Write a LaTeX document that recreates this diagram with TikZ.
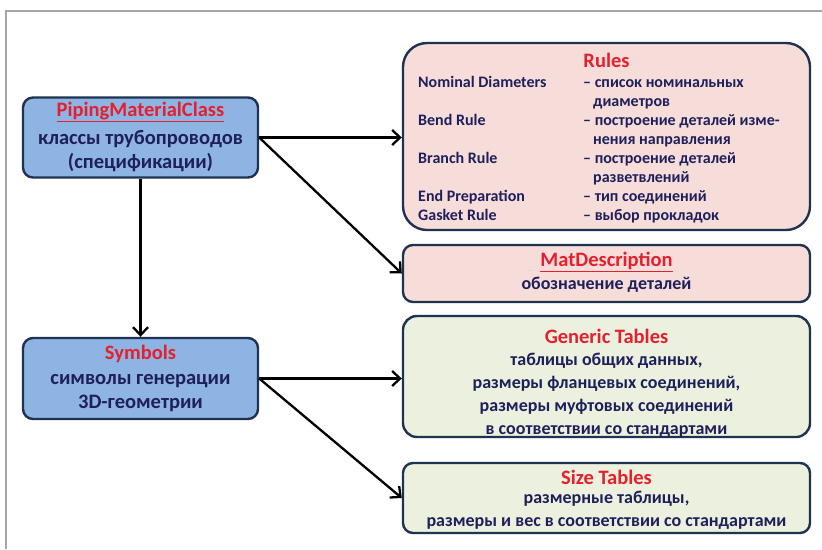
\documentclass[tikz,border=0pt]{standalone}
\usepackage{fontspec}
\setmainfont{Carlito}
\usetikzlibrary{arrows.meta}
\definecolor{navy}{HTML}{1F3350}
\definecolor{txt}{HTML}{1F1F5A}
\definecolor{ttl}{HTML}{E5202E}
\definecolor{bluefill}{HTML}{8EB4E3}
\definecolor{pinkfill}{HTML}{F7DDDA}
\definecolor{greenfill}{HTML}{EBF1DE}
\begin{document}
\begin{tikzpicture}[x=1pt,y=-1pt,
  box/.style={draw=navy, line width=2.4pt, rounded corners=10pt, inner sep=0pt,
    minimum width=407pt},
  leftbox/.style={box, fill=bluefill, minimum width=235pt},
  conn/.style={draw=black, line width=2.3pt, -{Straight Barb[length=8pt,width=15pt]}},
  title/.style={text=ttl, font=\bfseries\fontsize{20.5}{24}\selectfont, inner sep=0pt},
  lbody/.style={text=txt, font=\bfseries\fontsize{20.5}{24}\selectfont, align=center, inner sep=0pt},
  rbody/.style={text=txt, font=\bfseries\fontsize{18}{23}\selectfont, align=center, inner sep=0pt},
  rtext/.style={text=txt, font=\bfseries\fontsize{16}{19}\selectfont, align=left, inner sep=0pt, anchor=north west}
]
\useasboundingbox (0,0) rectangle (822,549);
\fill[white] (0,0) rectangle (822,549);
\draw[black!35, line width=1.2pt] (6,549) -- (6,11) -- (822,11);

% left boxes
\node[leftbox, minimum height=80pt] (pmc) at (140.5,137.5) {};
\node[title] (pmct) at (140.5,112) {\underline{PipingMaterialClass}};
\node[lbody] (pmcb) at (140.5,151.5) {классы трубопроводов\\(спецификации)};

\node[leftbox, minimum height=81pt] (sym) at (140.5,378.5) {};
\node[title] (symt) at (140.5,354) {Symbols};
\node[lbody] (symb) at (140.5,393) {символы генерации\\3D-геометрии};

% right boxes
\node[box, fill=pinkfill, minimum height=187pt, rounded corners=24pt] (rules) at (606.5,136.5) {};
\node[title] (rulest) at (606.5,60) {Rules};
\node[rtext] (rulesb) at (418,76.5) {%
\makebox[165pt][l]{Nominal Diameters}– список номинальных\\
\makebox[175pt][l]{}диаметров\\
\makebox[165pt][l]{Bend Rule}– построение деталей изме-\\
\makebox[175pt][l]{}нения направления\\
\makebox[165pt][l]{Branch Rule}– построение деталей\\
\makebox[175pt][l]{}разветвлений\\
\makebox[165pt][l]{End Preparation}– тип соединений\\
\makebox[165pt][l]{Gasket Rule}– выбор прокладок};

\node[box, fill=pinkfill, minimum height=57pt] (matd) at (606.5,273.5) {};
\node[title] (matdt) at (606.5,262) {\underline{MatDescription}};
\node[rbody] (matdb) at (606.5,285) {обозначение деталей};

\node[box, fill=greenfill, minimum height=121pt, rounded corners=14pt] (gen) at (606.5,376.5) {};
\node[title] (gent) at (606.5,336) {Generic Tables};
\node[rbody] (genb) at (606.5,395) {таблицы общих данных,\\размеры фланцевых соединений,\\размеры муфтовых соединений\\в соответствии со стандартами};

\node[box, fill=greenfill, minimum height=70pt] (size) at (606.5,498) {};
\node[title] (sizet) at (606.5,477) {Size Tables};
\node[rbody] (sizeb) at (606.5,510) {размерные таблицы,\\размеры и вес в соответствии со стандартами};

% connectors
\draw[conn] (pmc.east) -- (pmc.east -| rules.west);
\draw[conn] (pmc.east) -- (matd.west);
\draw[conn] (pmc.south) -- (sym.north);
\draw[conn] (sym.east) -- (sym.east -| gen.west);
\draw[conn] (sym.east) -- (size.west);
\end{tikzpicture}
\end{document}
